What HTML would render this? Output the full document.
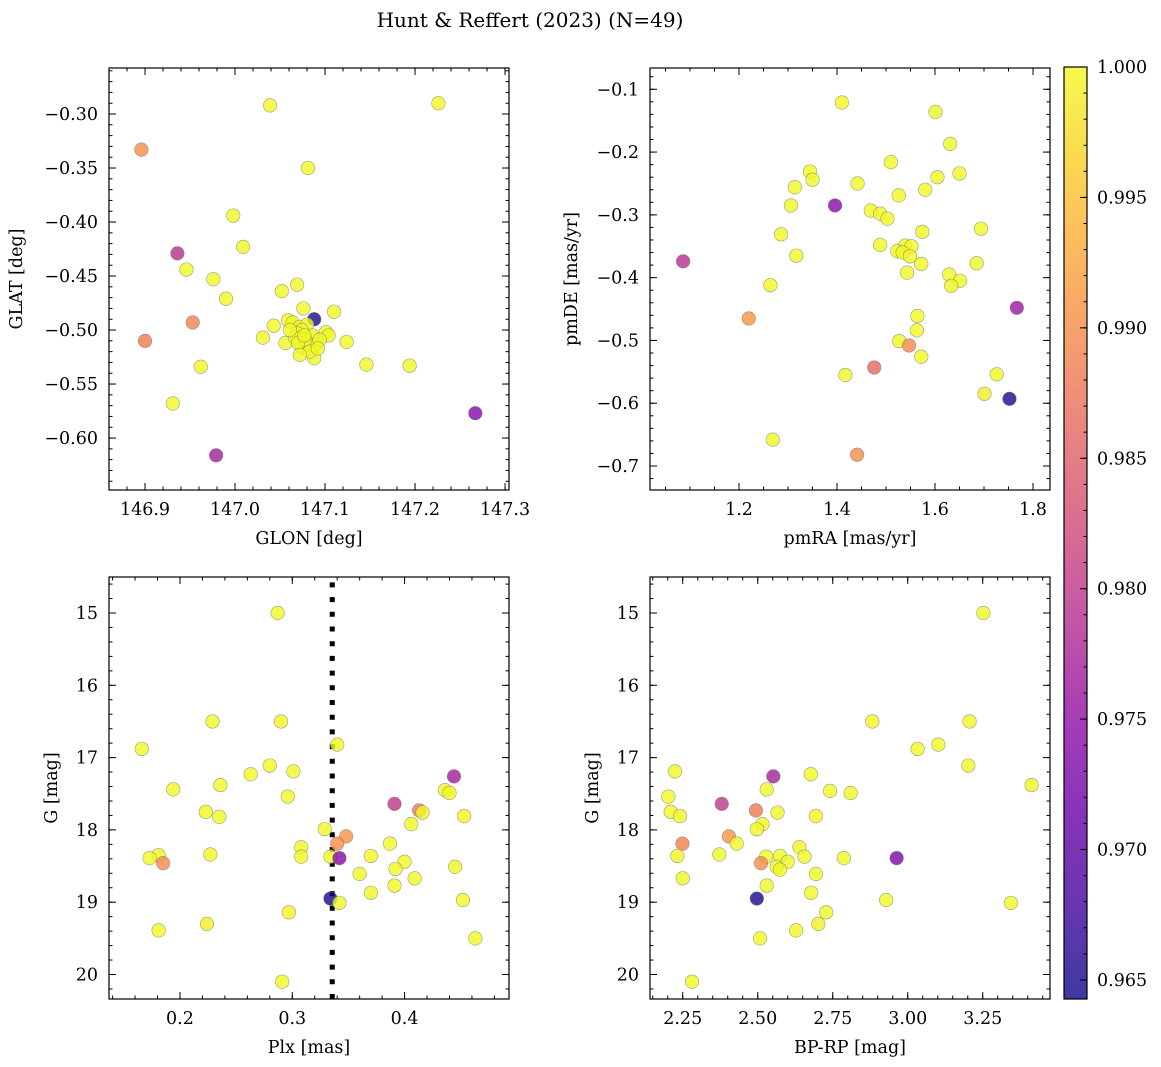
<!DOCTYPE html>
<html><head><meta charset="utf-8"><style>
html,body{margin:0;padding:0;background:#fff;}
svg{display:block;font-family:"DejaVu Serif","Liberation Serif",serif;}
</style></head><body>
<svg id="fig" width="1161" height="1067" viewBox="0 0 1161 1067" xmlns="http://www.w3.org/2000/svg">
<text x="530" y="27" font-size="20" text-anchor="middle">Hunt &amp; Reffert (2023) (N=49)</text>
</svg>
<script>
// ---------- data ----------
const glon = [146.896,147.039,147.226,147.081,146.998,147.009,146.936,146.946,146.976,147.069,147.052,146.990,147.076,147.110,146.953,147.088,147.043,147.059,147.064,147.072,147.080,147.074,147.069,147.086,147.101,147.104,147.031,147.056,147.124,147.074,147.081,147.090,147.088,147.146,147.194,146.962,146.900,146.931,147.267,146.979,147.067,147.078,147.083,147.070,147.094,147.061,147.077,147.092,147.072];
const glat = [-0.333,-0.292,-0.290,-0.350,-0.394,-0.423,-0.429,-0.444,-0.453,-0.458,-0.464,-0.471,-0.480,-0.483,-0.493,-0.490,-0.496,-0.491,-0.493,-0.497,-0.495,-0.500,-0.503,-0.505,-0.502,-0.505,-0.507,-0.512,-0.511,-0.516,-0.514,-0.513,-0.526,-0.532,-0.533,-0.534,-0.510,-0.568,-0.577,-0.616,-0.507,-0.509,-0.520,-0.512,-0.509,-0.500,-0.505,-0.517,-0.523];
const probTL = [0.990,1,1,1,1,1,0.979,1,1,1,1,1,1,1,0.989,0.965,1,1,1,1,1,1,1,1,1,1,1,1,1,1,1,1,1,1,1,1,0.988,1,0.974,0.977,1,1,1,1,1,1,1,1,1];

const pmra = [1.410,1.601,1.631,1.510,1.345,1.350,1.650,1.605,1.442,1.314,1.580,1.526,1.306,1.396,1.469,1.488,1.503,1.286,1.574,1.694,1.488,1.539,1.552,1.523,1.534,1.549,1.317,1.086,1.572,1.685,1.543,1.629,1.651,1.633,1.264,1.767,1.220,1.564,1.563,1.527,1.547,1.572,1.476,1.417,1.726,1.701,1.752,1.269,1.441];
const pmde = [-0.121,-0.136,-0.187,-0.216,-0.231,-0.244,-0.234,-0.240,-0.250,-0.256,-0.260,-0.269,-0.285,-0.285,-0.293,-0.298,-0.306,-0.331,-0.327,-0.322,-0.348,-0.349,-0.350,-0.358,-0.360,-0.366,-0.365,-0.374,-0.378,-0.377,-0.392,-0.395,-0.405,-0.413,-0.412,-0.448,-0.465,-0.461,-0.484,-0.501,-0.508,-0.526,-0.543,-0.555,-0.554,-0.585,-0.593,-0.658,-0.682];
const probTR = [1,1,1,1,1,1,1,1,1,1,1,1,1,0.974,1,1,1,1,1,1,1,1,1,1,1,1,1,0.979,1,1,1,1,1,1,1,0.976,0.991,1,1,1,0.990,1,0.986,1,1,0.999,0.965,1,0.990];

const plx = [0.287,0.229,0.290,0.340,0.166,0.280,0.263,0.301,0.236,0.194,0.444,0.436,0.440,0.296,0.391,0.413,0.416,0.223,0.235,0.453,0.406,0.329,0.348,0.340,0.387,0.308,0.308,0.181,0.173,0.185,0.227,0.334,0.342,0.370,0.400,0.392,0.445,0.360,0.409,0.391,0.370,0.334,0.342,0.452,0.297,0.224,0.181,0.463,0.291];
const gmagBL = [15.00,16.50,16.50,16.82,16.88,17.11,17.23,17.19,17.38,17.44,17.26,17.45,17.49,17.54,17.64,17.73,17.76,17.75,17.82,17.81,17.92,17.99,18.09,18.19,18.19,18.24,18.37,18.35,18.39,18.46,18.34,18.37,18.39,18.36,18.44,18.54,18.51,18.61,18.67,18.77,18.87,18.95,19.01,18.97,19.14,19.30,19.39,19.50,20.10];
const probBL = [1,1,1,1,1,1,1,1,1,1,0.977,1,1,1,0.980,0.988,1,1,1,1,1,1,0.991,0.990,1,1,1,1,1,0.990,1,1,0.974,1,1,1,1,1,1,1,1,0.965,1,1,1,0.999,1,1,1];

const bprp = [3.252,2.882,3.206,3.033,3.102,3.202,2.224,2.677,2.552,3.413,2.741,2.810,2.530,2.202,2.380,2.494,2.566,2.210,2.241,2.694,2.516,2.497,2.404,2.430,2.249,2.639,2.372,2.232,2.528,2.574,2.656,2.787,2.963,2.600,2.511,2.563,2.574,2.694,2.250,2.530,2.678,2.497,2.928,3.344,2.728,2.702,2.628,2.508,2.281];
const gmagBR = [15.00,16.50,16.50,16.88,16.82,17.11,17.19,17.23,17.26,17.38,17.46,17.49,17.44,17.54,17.64,17.73,17.76,17.75,17.81,17.81,17.92,17.99,18.09,18.19,18.19,18.24,18.34,18.36,18.37,18.36,18.37,18.39,18.39,18.44,18.46,18.51,18.55,18.61,18.67,18.77,18.87,18.95,18.97,19.01,19.14,19.30,19.39,19.50,20.10];
const probBR = [1,1,1,1,1,1,1,1,0.977,1,1,1,1,1,0.980,0.988,1,1,1,1,1,1,0.991,1,0.989,1,1,1,1,1,1,1,0.973,1,0.990,1,1,1,1,1,1,0.965,1,1,1,0.999,1,1,1];

const plxLine = [0.3356];
const cbarTicks = [0.965,0.970,0.975,0.980,0.985,0.990,0.995,1.000];
const vmin = 0.96427, vmax = 1.0;

// ---------- helpers ----------
const NS = 'http://www.w3.org/2000/svg';
const svg = document.getElementById('fig');
const FS = 17.5;
function mk(tag, attrs, parent){
  const e = document.createElementNS(NS, tag);
  for (const k in attrs) e.setAttribute(k, attrs[k]);
  (parent||svg).appendChild(e);
  return e;
}
const plasma = [[13,8,135],[65,4,157],[106,0,168],[143,13,164],[177,42,144],[204,71,120],[225,100,98],[242,132,75],[252,166,54],[252,206,37],[240,249,33]];
function cmap(v){
  let t = (v - vmin)/(vmax - vmin); t = Math.max(0, Math.min(1, t));
  const f = t*10, i = Math.min(9, Math.floor(f)), r = f - i;
  const a = plasma[i], b = plasma[i+1];
  return 'rgb(' + a.map((c,k)=>Math.round(c+(b[k]-c)*r)).join(',') + ')';
}
function fmtTick(v, d){ const s = Math.abs(v).toFixed(d); return (v < -1e-9 ? '\u2212' : '') + s; }

function panel(cfg){
  const g = mk('g', {});
  
  
  const sx = v => cfg.x0 + (v - cfg.xmin)/(cfg.xmax - cfg.xmin)*cfg.w;
  const sy = v => cfg.y0 + (v - cfg.ytop)/(cfg.ybot - cfg.ytop)*cfg.h;
  const tg = mk('g', {stroke:'#000','stroke-width':1}, g);
  const eps = 1e-9;
  for (let v = Math.ceil(cfg.xmin/cfg.xminor - eps)*cfg.xminor; v <= cfg.xmax + eps; v += cfg.xminor){
    const x = sx(v);
    mk('line',{x1:x,x2:x,y1:cfg.y0+cfg.h,y2:cfg.y0+cfg.h-3.5},tg);
    mk('line',{x1:x,x2:x,y1:cfg.y0,y2:cfg.y0+3.5},tg);
  }
  const ylo = Math.min(cfg.ytop,cfg.ybot), yhi = Math.max(cfg.ytop,cfg.ybot);
  for (let v = Math.ceil(ylo/cfg.yminor - eps)*cfg.yminor; v <= yhi + eps; v += cfg.yminor){
    const y = sy(v);
    mk('line',{x1:cfg.x0,x2:cfg.x0+3.5,y1:y,y2:y},tg);
    mk('line',{x1:cfg.x0+cfg.w,x2:cfg.x0+cfg.w-3.5,y1:y,y2:y},tg);
  }
  cfg.xticks.forEach(v=>{
    const x = sx(v);
    mk('line',{x1:x,x2:x,y1:cfg.y0+cfg.h,y2:cfg.y0+cfg.h-7},tg);
    mk('line',{x1:x,x2:x,y1:cfg.y0,y2:cfg.y0+7},tg);
    const t = mk('text',{x:x,y:cfg.y0+cfg.h+25,'font-size':FS,'text-anchor':'middle'},g);
    
    
    t.textContent = fmtTick(v, cfg.xd);
  });
  cfg.yticks.forEach(v=>{
    const y = sy(v);
    mk('line',{x1:cfg.x0,x2:cfg.x0+7,y1:y,y2:y},tg);
    mk('line',{x1:cfg.x0+cfg.w,x2:cfg.x0+cfg.w-7,y1:y,y2:y},tg);
    const t = mk('text',{x:cfg.x0-11,y:y+6,'font-size':FS,'text-anchor':'end'},g);
    
    
    t.textContent = fmtTick(v, cfg.yd);
  });
  const xl = mk('text',{x:cfg.x0+cfg.w/2,y:cfg.y0+cfg.h+54,'font-size':FS,'text-anchor':'middle'},g);
  
  
  xl.textContent = cfg.xlabel;
  const yl = mk('text',{x:0,y:0,'font-size':FS,'text-anchor':'middle',transform:'translate('+cfg.ylx+','+(cfg.y0+cfg.h/2)+') rotate(-90)'},g);
  
  
  yl.textContent = cfg.ylabel;
  if (cfg.vline){
    cfg.vline.forEach(v=>{
      const l = mk('line',{x1:sx(v),x2:sx(v),y1:cfg.y0+cfg.h,y2:cfg.y0,stroke:'#000','stroke-width':5,'stroke-dasharray':'5,9.7'},g);
      
      
    });
  }
  const pg = mk('g', {}, g);
  cfg.xs.forEach((xv,i)=>{
    const c = mk('circle',{cx:sx(xv),cy:sy(cfg.ys[i]),r:6.8,fill:cmap(cfg.c[i]),'fill-opacity':0.8,stroke:'#777','stroke-opacity':0.7,'stroke-width':0.6},pg);
    
    
  });
  const f = mk('rect',{x:cfg.x0,y:cfg.y0,width:cfg.w,height:cfg.h,fill:'none',stroke:'#000','stroke-width':1.2},g);
  
  
}

panel({name:'glon-glat-panel',x0:109,y0:68,w:400,h:422,xmin:146.86,xmax:147.3044,ytop:-0.2574,ybot:-0.6481,
  xticks:[146.9,147.0,147.1,147.2,147.3],xd:1,xminor:0.02,yticks:[-0.30,-0.35,-0.40,-0.45,-0.50,-0.55,-0.60],yd:2,yminor:0.01,
  xlabel:'GLON [deg]',ylabel:'GLAT [deg]',ylx:22,xs:glon,ys:glat,c:probTL});
panel({name:'pmra-pmde-panel',x0:650,y0:68,w:400,h:422,xmin:1.0184,xmax:1.8347,ytop:-0.0661,ybot:-0.7382,
  xticks:[1.2,1.4,1.6,1.8],xd:1,xminor:0.05,yticks:[-0.1,-0.2,-0.3,-0.4,-0.5,-0.6,-0.7],yd:1,yminor:0.02,
  xlabel:'pmRA [mas/yr]',ylabel:'pmDE [mas/yr]',ylx:577,xs:pmra,ys:pmde,c:probTR});
panel({name:'plx-g-panel',x0:109,y0:577,w:400,h:422,xmin:0.1368,xmax:0.493,ytop:14.502,ybot:20.339,
  xticks:[0.2,0.3,0.4],xd:1,xminor:0.02,yticks:[15,16,17,18,19,20],yd:0,yminor:0.2,
  xlabel:'Plx [mas]',ylabel:'G [mag]',ylx:57,xs:plx,ys:gmagBL,c:probBL,vline:plxLine});
panel({name:'bprp-g-panel',x0:650,y0:577,w:400,h:422,xmin:2.1409,xmax:3.4742,ytop:14.502,ybot:20.339,
  xticks:[2.25,2.50,2.75,3.00,3.25],xd:2,xminor:0.05,yticks:[15,16,17,18,19,20],yd:0,yminor:0.2,
  xlabel:'BP-RP [mag]',ylabel:'G [mag]',ylx:598,xs:bprp,ys:gmagBR,c:probBR});

// ---------- colorbar ----------
(function(){
  const x0=1064, y0=67, w=23, h=932;
  const g = mk('g',{});
  
  
  const defs = mk('defs',{},g);
  const lg = mk('linearGradient',{id:'pl',x1:0,y1:1,x2:0,y2:0},defs);
  plasma.forEach((c,i)=>mk('stop',{offset:(i/10),'stop-color':'rgb('+c.join(',')+')','stop-opacity':0.8},lg));
  mk('rect',{x:x0,y:y0,width:w,height:h,fill:'url(#pl)'},g);
  const cy = v => y0 + (vmax - v)/(vmax - vmin)*h;
  for (let v = 0.965; v <= 1.0001; v += 0.001){
    mk('line',{x1:x0+w,x2:x0+w-3.5,y1:cy(v),y2:cy(v),stroke:'#000'},g);
  }
  cbarTicks.forEach(v=>{
    mk('line',{x1:x0+w,x2:x0+w-7,y1:cy(v),y2:cy(v),stroke:'#000'},g);
    const t = mk('text',{x:x0+w+10,y:cy(v)+6,'font-size':FS},g);
    
    
    t.textContent = v.toFixed(3);
  });
  mk('rect',{x:x0,y:y0,width:w,height:h,fill:'none',stroke:'#000','stroke-width':1.2},g);
})();
</script>
</body></html>
